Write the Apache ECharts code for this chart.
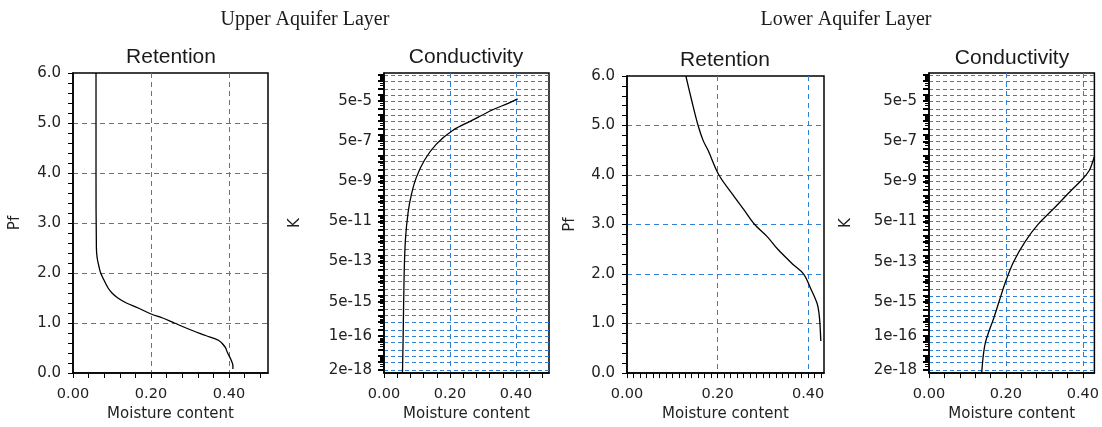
<!DOCTYPE html>
<html><head><meta charset="utf-8">
<script src="https://cdn.jsdelivr.net/npm/echarts@6/dist/echarts.min.js"></script>
<style>html,body{margin:0;padding:0;background:#fff}#c{width:1102px;height:427px}</style>
</head><body><div id="c"></div>
<script>
// ---- data ----
const layerTitles = ['Upper Aquifer Layer', 'Lower Aquifer Layer'];
const panelTitles = ['Retention', 'Conductivity', 'Retention', 'Conductivity'];

const upperRetTheta = [0.059, 0.059, 0.060, 0.062, 0.066, 0.071, 0.080, 0.090, 0.100, 0.115, 0.137, 0.167, 0.200, 0.230, 0.260, 0.306, 0.340, 0.374, 0.390, 0.396, 0.406, 0.410, 0.410];
const upperRetPf    = [6.0,   4.0,   2.5,   2.3,   2.15,  2.0,   1.85,  1.7,   1.6,   1.5,   1.4,   1.3,   1.18,  1.1,   1.0,   0.85,  0.75,  0.65,  0.52,  0.41,  0.25,  0.15,  0.08];

const upperCondTheta = [0.056, 0.058, 0.061, 0.065, 0.073, 0.083, 0.098, 0.123, 0.158, 0.208, 0.268, 0.328, 0.378, 0.405];
const upperCondK     = [1.4e-18, 8e-17, 1.1e-13, 6.3e-12, 1.4e-10, 1.1e-9, 7.9e-9, 5.8e-8, 3.5e-7, 1.7e-6, 5.6e-6, 1.8e-5, 4e-5, 6.5e-5];

const lowerRetTheta = [0.130, 0.143, 0.157, 0.168, 0.179, 0.203, 0.234, 0.258, 0.282, 0.310, 0.333, 0.366, 0.390, 0.406, 0.420, 0.424, 0.426, 0.428];
const lowerRetPf    = [6.0,   5.5,   5.0,   4.7,   4.5,   4.0,   3.6,   3.3,   3.0,   2.75,  2.5,   2.2,   2.0,   1.7,   1.4,   1.2,   1.0,   0.65];

const lowerCondTheta = [0.137, 0.141, 0.147, 0.158, 0.165, 0.182, 0.199, 0.220, 0.250, 0.284, 0.327, 0.370, 0.400, 0.417, 0.426, 0.430];
const lowerCondK     = [1.4e-18, 1e-17, 5e-17, 2.2e-16, 5e-16, 5e-15, 5e-14, 5e-13, 5e-12, 3.7e-11, 2.5e-10, 1.8e-9, 6.8e-9, 1.8e-8, 5e-8, 8.5e-8];

const thetaTickLabels = [0, 0.2, 0.4];
const pfTickLabels = [0, 1, 2, 3, 4, 5, 6];
const kTickLabels = ['2e-18', '1e-16', '5e-15', '5e-13', '5e-11', '5e-9', '5e-7', '5e-5'];
const kTickValues = kTickLabels.map(Number);

// ---- layout ----
const FT = 'DejaVu Sans';
const FA = 'Liberation Sans';
const TXT = '#222';
const GRIDC = '#2f7fd6';
const gridBoxes = [
  {left: 73, top: 73, width: 195, height: 300},
  {left: 384, top: 73, width: 165, height: 300},
  {left: 627, top: 76, width: 197, height: 300},
  {left: 929, top: 73, width: 168, height: 301}
];
const xMax = [0.5, 0.5, 0.435, 0.43];
const xMinorStep = [0.04, 0.04, 0.2 / 14, 0.04];
const yNameGap = [50, 81, 49, 75];
const isK = [false, true, false, true];
const K_MIN = Math.log10(1.4e-18), K_MAX = Math.log10(1.26e-3);

function steps(max, step) {
  const a = [];
  for (let i = 0; ; i++) { const v = +(i * step).toFixed(6); if (v > max + 1e-9) break; a.push(v); }
  return a;
}
const kGridVals = [], kMinorVals = [];
for (let e = -18; e <= -3; e++) {
  [1, 2, 5].forEach(m => { const v = Math.log10(m) + e; if (v > K_MIN + 0.01 && v < K_MAX - 0.01) kGridVals.push(v); });
  for (let m = 1; m <= 9; m++) { const v = Math.log10(m) + e; if (v >= K_MIN && v <= K_MAX) kMinorVals.push(v); }
}
const kLabelPos = kTickValues.map(Math.log10);
function kFmt(v) {
  for (let i = 0; i < kLabelPos.length; i++) if (Math.abs(kLabelPos[i] - v) < 1e-6) return kTickLabels[i];
  return '';
}

const grids = [], xAxes = [], yAxes = [];
gridBoxes.forEach((b, g) => {
  grids.push(Object.assign({show: true, borderColor: '#000', borderWidth: 1.5, backgroundColor: 'transparent'}, b));
  const xSplit = [0.2, 0.4];
  xAxes.push({
    type: 'value', gridIndex: g, min: 0, max: xMax[g], position: 'bottom',
    axisLine: {show: true, onZero: false, lineStyle: {color: '#000', width: 1.5}},
    axisTick: {show: false, customValues: xSplit},
    axisLabel: {customValues: thetaTickLabels, formatter: v => v.toFixed(2), margin: 14, color: TXT, fontFamily: FT, fontSize: 14.5},
    splitLine: {show: true, customValues: xSplit, lineStyle: {color: GRIDC, type: [5, 4], width: 1}},
    name: 'Moisture content', nameLocation: 'middle', nameGap: 33,
    nameTextStyle: {color: TXT, fontFamily: FT, fontSize: 15}
  });
  xAxes.push({
    type: 'value', gridIndex: g, min: 0, max: xMax[g], position: 'bottom',
    axisLine: {show: false},
    axisTick: {show: true, customValues: steps(xMax[g], xMinorStep[g]), length: 5, lineStyle: {color: '#000', width: 1}},
    axisLabel: {show: false}, splitLine: {show: false}
  });
  if (!isK[g]) {
    const ySplit = [1, 2, 3, 4, 5];
    yAxes.push({
      type: 'value', gridIndex: g, min: 0, max: 6, position: 'left',
      axisLine: {show: true, onZero: false, lineStyle: {color: '#000', width: 1.5}},
      axisTick: {show: false, customValues: ySplit},
      axisLabel: {customValues: pfTickLabels, formatter: v => v.toFixed(1), margin: 12, color: TXT, fontFamily: FT, fontSize: 15},
      splitLine: {show: true, customValues: ySplit, lineStyle: {color: GRIDC, type: [5, 4], width: 1}},
      name: 'Pf', nameLocation: 'middle', nameGap: yNameGap[g], nameRotate: 90,
      nameTextStyle: {color: TXT, fontFamily: FT, fontSize: 15}
    });
    yAxes.push({
      type: 'value', gridIndex: g, min: 0, max: 6, position: 'left',
      axisLine: {show: false},
      axisTick: {show: true, customValues: steps(6, 0.2), length: 5, lineStyle: {color: '#000', width: 1}},
      axisLabel: {show: false}, splitLine: {show: false}
    });
  } else {
    yAxes.push({
      type: 'value', gridIndex: g, min: K_MIN, max: K_MAX, position: 'left',
      axisLine: {show: true, onZero: false, lineStyle: {color: '#000', width: 1.5}},
      axisTick: {show: true, customValues: kGridVals, length: 6, lineStyle: {color: '#000', width: 2}},
      axisLabel: {customValues: kLabelPos, formatter: kFmt, margin: 12, color: TXT, fontFamily: FT, fontSize: 15},
      splitLine: {show: true, customValues: kGridVals, lineStyle: {color: GRIDC, type: [4, 3], width: 1}},
      name: 'K', nameLocation: 'middle', nameGap: yNameGap[g], nameRotate: 90,
      nameTextStyle: {color: TXT, fontFamily: FT, fontSize: 15}
    });
    yAxes.push({
      type: 'value', gridIndex: g, min: K_MIN, max: K_MAX, position: 'left',
      axisLine: {show: false},
      axisTick: {show: true, customValues: kMinorVals, length: 4, lineStyle: {color: '#000', width: 1}},
      axisLabel: {show: false}, splitLine: {show: false}
    });
  }
});

function pairs(xs, ys, tf) { return xs.map((x, i) => [x, tf ? tf(ys[i]) : ys[i]]); }
const series = [
  {type: 'line', xAxisIndex: 0, yAxisIndex: 0, data: pairs(upperRetTheta, upperRetPf)},
  {type: 'line', xAxisIndex: 2, yAxisIndex: 2, data: pairs(upperCondTheta, upperCondK, Math.log10)},
  {type: 'line', xAxisIndex: 4, yAxisIndex: 4, data: pairs(lowerRetTheta, lowerRetPf)},
  {type: 'line', xAxisIndex: 6, yAxisIndex: 6, data: pairs(lowerCondTheta, lowerCondK, Math.log10)}
].map(s => Object.assign(s, {showSymbol: false, smooth: 0.35, lineStyle: {color: '#000', width: 1.3}, silent: true}));

function txt(text, x, y, font) {
  return {type: 'text', x: x, y: y, style: {text: text, font: font, fill: '#1a1a1a',
    align: 'center', verticalAlign: 'middle', textAlign: 'center', textVerticalAlign: 'middle'}};
}
const panelCenters = [[171, 57], [466, 57], [725, 60], [1012, 58]];
const graphic = [
  txt(layerTitles[0], 305, 20, '20px "Liberation Serif"'),
  txt(layerTitles[1], 846, 20, '20px "Liberation Serif"')
].concat(panelTitles.map((t, i) => txt(t, panelCenters[i][0], panelCenters[i][1], '21px "' + FA + '"')));

const chart = echarts.init(document.getElementById('c'));
chart.setOption({
  animation: false, backgroundColor: '#fff',
  grid: grids, xAxis: xAxes, yAxis: yAxes, series: series, graphic: graphic
});
</script></body></html>
